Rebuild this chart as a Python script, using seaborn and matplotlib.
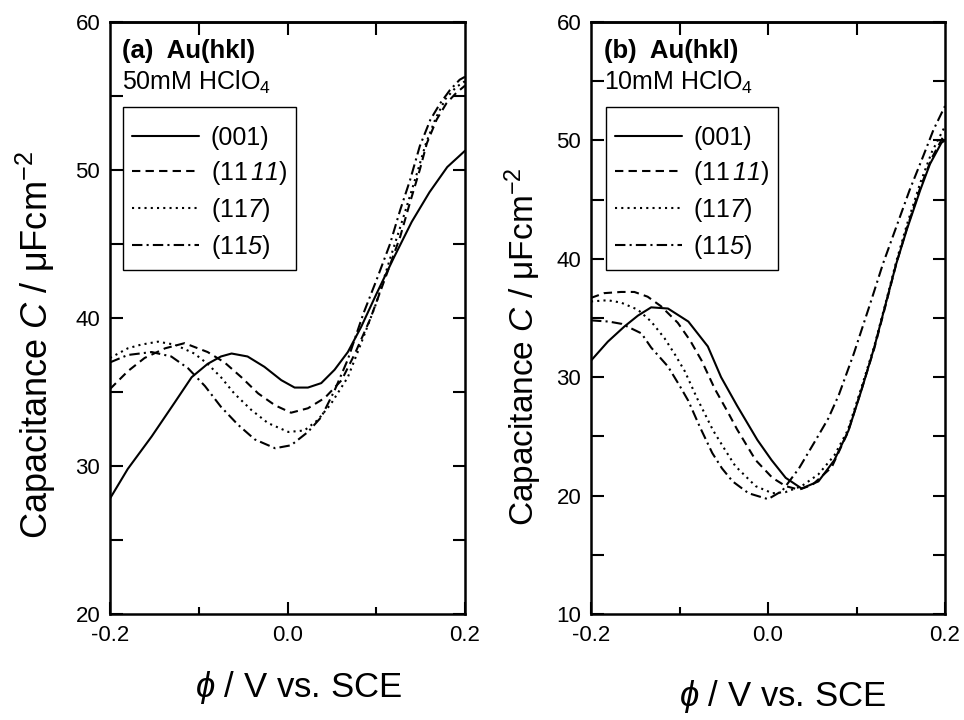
import matplotlib
matplotlib.use("Agg")
import matplotlib.pyplot as plt
import pandas as pd
import seaborn as sns
from matplotlib.ticker import MultipleLocator

# ---- data (potential in V vs. SCE, capacitance in uF/cm2)
facets = ["001", "1111", "117", "115"]
# \mathsf is mapped to an italic face below so that the digits come out slanted
facet_labels = ["(001)", r"(11$\,\mathsf{11}$)", r"(11$\mathsf{7}$)", r"(11$\mathsf{5}$)"]

# (a) 50 mM HClO4
a_x_001 = [-0.2, -0.18, -0.153, -0.127, -0.108, -0.09, -0.075, -0.063, -0.045, -0.026, -0.007, 0.008,
           0.023, 0.038, 0.053, 0.068, 0.083, 0.1, 0.12, 0.14, 0.16, 0.18, 0.2]
a_c_001 = [27.8, 29.8, 32.0, 34.3, 36.0, 36.9, 37.4, 37.6, 37.4, 36.7, 35.8, 35.3,
           35.3, 35.6, 36.5, 37.7, 39.4, 41.6, 44.1, 46.5, 48.5, 50.2, 51.3]

a_x_1111 = [-0.2, -0.18, -0.161, -0.138, -0.116, -0.09, -0.071, -0.052, -0.033, -0.014, 0.004, 0.023,
            0.042, 0.061, 0.076, 0.093, 0.112, 0.127, 0.138, 0.149, 0.157, 0.168, 0.179, 0.19, 0.2]
a_c_1111 = [35.2, 36.4, 37.3, 37.95, 38.3, 37.7, 37.0, 36.0, 34.9, 34.1, 33.6, 33.9,
            34.6, 35.8, 37.6, 39.9, 43.0, 45.5, 47.8, 50.0, 51.8, 53.4, 54.5, 55.2, 55.7]

a_x_117 = [-0.2, -0.18, -0.165, -0.146, -0.127, -0.105, -0.09, -0.075, -0.06, -0.041, -0.022, 0.001,
           0.019, 0.034, 0.049, 0.068, 0.083, 0.1, 0.115, 0.13, 0.145, 0.156, 0.167, 0.178, 0.19, 0.2]
a_c_117 = [37.3, 37.95, 38.2, 38.4, 38.2, 37.6, 36.9, 36.0, 34.9, 33.8, 32.9, 32.3,
           32.4, 33.1, 34.2, 36.0, 38.3, 41.0, 43.9, 46.7, 49.6, 51.8, 53.5, 54.8, 55.6, 56.0]

a_x_115 = [-0.2, -0.18, -0.153, -0.131, -0.112, -0.093, -0.075, -0.056, -0.037, -0.014, 0.004, 0.023,
           0.038, 0.053, 0.068, 0.0855, 0.1005, 0.1155, 0.127, 0.138, 0.149, 0.161, 0.172, 0.183, 0.194, 0.2]
a_c_115 = [37.0, 37.5, 37.7, 37.4, 36.6, 35.4, 34.0, 32.8, 31.8, 31.2, 31.4, 32.3,
           33.3, 35.1, 37.2, 40.3, 42.6, 45.0, 47.3, 49.3, 51.6, 53.4, 54.5, 55.4, 56.1, 56.3]

# (b) 10 mM HClO4
b_x_001 = [-0.2, -0.181, -0.162, -0.147, -0.132, -0.113, -0.09, -0.068, -0.053, -0.035, -0.012, 0.004,
           0.02, 0.038, 0.057, 0.075, 0.091, 0.106, 0.12, 0.133, 0.145, 0.157, 0.172, 0.183, 0.196, 0.2]
b_c_001 = [31.4, 33.0, 34.3, 35.2, 35.9, 35.8, 34.7, 32.6, 30.0, 27.6, 24.7, 23.0,
           21.5, 20.6, 21.2, 23.0, 25.5, 29.0, 32.5, 36.2, 39.6, 42.5, 45.8, 48.0, 49.8, 50.0]

b_x_1111 = [-0.2, -0.185, -0.166, -0.151, -0.136, -0.121, -0.102, -0.088, -0.075, -0.06, -0.045, -0.035,
            -0.014, 0.005, 0.02, 0.035, 0.05, 0.072, 0.09, 0.105, 0.12, 0.133, 0.145, 0.157, 0.172, 0.185, 0.2]
b_c_1111 = [36.7, 37.1, 37.2, 37.2, 36.8, 36.0, 34.6, 33.1, 31.4, 29.0, 27.0, 25.6,
            23.0, 21.5, 20.8, 20.5, 20.9, 22.4, 25.3, 28.8, 32.4, 36.1, 39.6, 42.6, 46.0, 48.5, 50.6]

b_x_117 = [-0.2, -0.181, -0.166, -0.147, -0.132, -0.117, -0.105, -0.094, -0.08, -0.062, -0.048, -0.037,
           -0.014, 0.005, 0.02, 0.038, 0.057, 0.075, 0.09, 0.105, 0.12, 0.133, 0.145, 0.157, 0.172, 0.185, 0.2]
b_c_117 = [36.4, 36.5, 36.3, 35.7, 34.7, 33.3, 31.9, 30.5, 28.2, 25.5, 23.8, 22.5,
           20.8, 20.2, 20.3, 20.8, 21.8, 23.4, 25.5, 29.0, 32.6, 36.3, 39.8, 42.9, 46.4, 49.0, 51.2]

b_x_115 = [-0.2, -0.18, -0.165, -0.143, -0.132, -0.113, -0.1, -0.09, -0.077, -0.063, -0.052, -0.04,
           -0.022, 0.0, 0.016, 0.035, 0.054, 0.068, 0.08, 0.097, 0.115, 0.13, 0.145, 0.16, 0.175, 0.187, 0.2]
b_c_115 = [34.8, 34.7, 34.5, 33.7, 32.5, 30.9, 29.3, 28.0, 25.8, 23.6, 22.3, 21.2,
           20.2, 19.7, 20.4, 22.3, 24.7, 26.5, 28.5, 32.0, 36.1, 39.6, 42.7, 45.8, 48.6, 50.9, 52.9]


def long_table(xs, cs):
    frames = []
    for f, x, c in zip(facets, xs, cs):
        frames.append(pd.DataFrame({"phi": x, "C": c, "facet": f}))
    return pd.concat(frames, ignore_index=True)


df_a = long_table([a_x_001, a_x_1111, a_x_117, a_x_115], [a_c_001, a_c_1111, a_c_117, a_c_115])
df_b = long_table([b_x_001, b_x_1111, b_x_117, b_x_115], [b_c_001, b_c_1111, b_c_117, b_c_115])

sns.set_style("ticks")
plt.rcParams["font.family"] = ["Liberation Sans", "DejaVu Sans"]
plt.rcParams["mathtext.fontset"] = "custom"
plt.rcParams["mathtext.rm"] = "Liberation Sans"
plt.rcParams["mathtext.it"] = "Liberation Sans:italic"
plt.rcParams["mathtext.sf"] = "Liberation Sans:italic"
plt.rcParams["mathtext.bf"] = "Liberation Sans:bold"
plt.rcParams["axes.unicode_minus"] = False
for key in ["text.color", "axes.labelcolor", "xtick.color", "ytick.color", "axes.edgecolor"]:
    plt.rcParams[key] = "black"

dash_map = {"001": "", "1111": (4, 2.5), "117": (1, 2), "115": (5, 2, 1, 2)}

fig = plt.figure(figsize=(9.64, 7.2), dpi=100)
ax_a = fig.add_axes([110 / 964, 106 / 720, 355 / 964, 592 / 720])
ax_b = fig.add_axes([591 / 964, 106 / 720, 354 / 964, 592 / 720])

panels = [
    (ax_a, df_a, (20, 60), "(a)  Au(hkl)", r"50mM HClO$_4$", 0.034, 0.037, 26, (-0.208, 0.454), (0.53, -0.125)),
    (ax_b, df_b, (10, 60), "(b)  Au(hkl)", r"10mM HClO$_4$", 0.037, 0.042, 24, (-0.192, 0.452), (0.542, -0.14)),
]

for ax, df, ylim, title, conc, tx, lx, ylab_size, ylab_pos, xlab_pos in panels:
    sns.lineplot(data=df, x="phi", y="C", style="facet", style_order=facets, dashes=dash_map,
                 color="black", linewidth=1.5, sort=False, estimator=None, legend=False, ax=ax)
    ax.set_xlim(-0.2, 0.2)
    ax.set_ylim(*ylim)
    ax.xaxis.set_major_locator(MultipleLocator(0.2))
    ax.xaxis.set_minor_locator(MultipleLocator(0.1))
    ax.yaxis.set_major_locator(MultipleLocator(10))
    ax.yaxis.set_minor_locator(MultipleLocator(5))
    ax.xaxis.set_major_formatter(plt.FuncFormatter(lambda v, _: f"{v:.1f}"))
    ax.tick_params(which="both", direction="in", top=False, right=True, width=1.5, labelsize=16,
                   colors="black")
    ax.tick_params(axis="y", which="both", length=9, pad=7)
    ax.tick_params(axis="x", which="major", length=9, pad=8)
    ax.tick_params(axis="x", which="minor", length=5)
    top = ax.secondary_xaxis("top")
    top.set_xticks([-0.1, 0.0, 0.1])
    top.tick_params(direction="in", length=9, width=1.5, labeltop=False)
    top.spines["top"].set_linewidth(1.8)
    for s in ax.spines.values():
        s.set_linewidth(1.8)
        s.set_color("black")

    ax.set_ylabel(r"Capacitance $\mathit{C}$ / μFcm$^{-2}$", fontsize=ylab_size)
    ax.yaxis.set_label_coords(*ylab_pos)
    ax.yaxis.label.set_verticalalignment("center")
    ax.set_xlabel(r"$\phi$ / V vs. SCE", fontsize=25)
    ax.xaxis.set_label_coords(*xlab_pos)
    ax.xaxis.label.set_verticalalignment("center")

    ax.text(tx, 0.940, title, transform=ax.transAxes, fontsize=18.5, fontweight="bold", va="baseline")
    ax.text(tx, 0.886, conc, transform=ax.transAxes, fontsize=18, va="baseline")

    # a near-invisible title only adds a little room above the first entry
    leg = ax.legend(handles=ax.lines[:4], labels=facet_labels, loc="upper left",
                    bbox_to_anchor=(lx, 0.856), borderaxespad=0, fontsize=18, handlelength=2.7,
                    handletextpad=0.45, labelspacing=0.36, borderpad=0.35, fancybox=False,
                    framealpha=1, edgecolor="black", title=" ", title_fontsize=1)
    leg.get_frame().set_linewidth(1.0)

fig.savefig("out.png", dpi=100)
